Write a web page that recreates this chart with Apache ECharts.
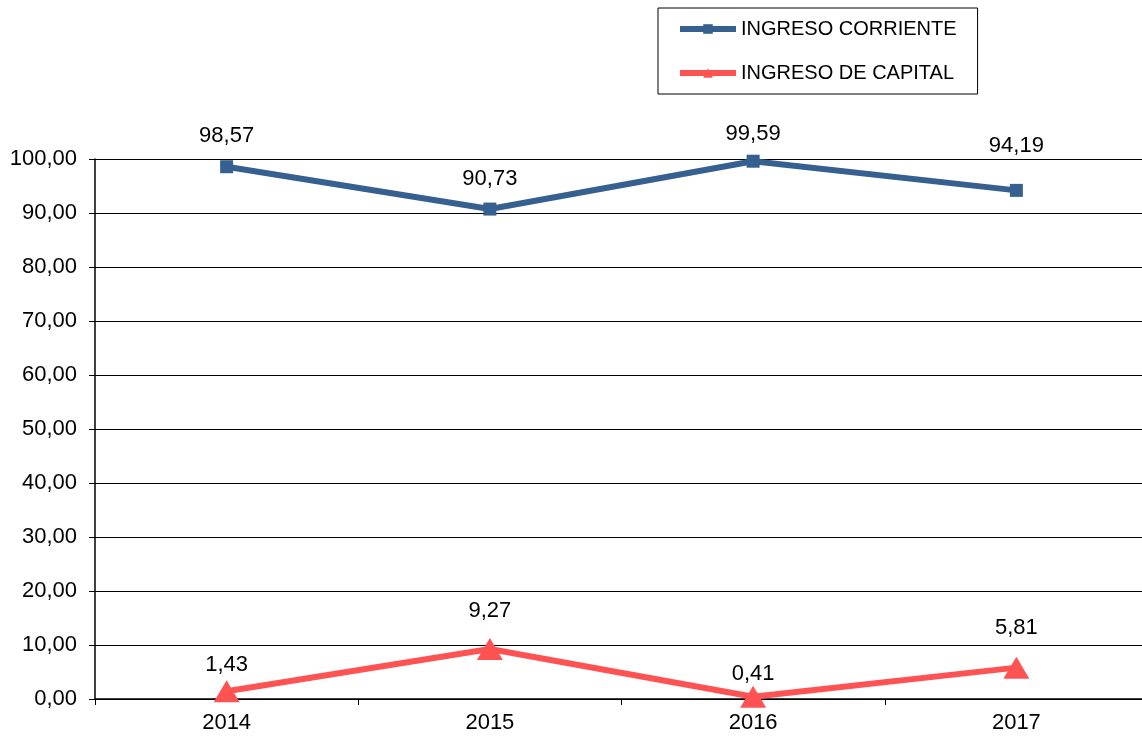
<!DOCTYPE html>
<html>
<head>
<meta charset="utf-8">
<script src="https://cdn.jsdelivr.net/npm/echarts@6/dist/echarts.min.js"></script>
<style>
  html, body { margin: 0; padding: 0; background: #fff; }
  #main { width: 1142px; height: 738px; }
</style>
</head>
<body>
<div id="main"></div>
<script>
var years = ["2014", "2015", "2016", "2017"];
var ingresoCorriente = [98.57, 90.73, 99.59, 94.19];
var ingresoCapital = [1.43, 9.27, 0.41, 5.81];

// label gaps above each point, as placed in the original
var corrienteLabelGap = [13, 13, 10, 27];
var capitalLabelGap = [4, 16, 1, 18];

var chartDom = document.getElementById("main");
var myChart = echarts.init(chartDom);
var option;

function comma(v) {
  return Number(v).toFixed(2).replace(".", ",");
}

function withLabels(values, gaps) {
  return values.map(function (v, i) {
    return { value: v, label: { distance: gaps[i] } };
  });
}

var font = "Liberation Sans, Arial, sans-serif";

option = {
  animation: false,
  textStyle: { fontFamily: font },
  legend: {
    left: 658,
    top: 8,
    orient: "vertical",
    padding: [11, 21, 11, 19],
    itemGap: 24,
    itemWidth: 56,
    itemHeight: 12,
    borderColor: "#000",
    borderWidth: 1,
    lineStyle: { width: 6 },
    textStyle: { fontSize: 20, color: "#000", fontFamily: font },
    data: ["INGRESO CORRIENTE", "INGRESO DE CAPITAL"]
  },
  grid: {
    left: 95,
    width: 1053,
    top: 159,
    bottom: 39,
    outerBoundsMode: "none"
  },
  xAxis: {
    type: "category",
    data: years,
    boundaryGap: true,
    axisLine: { lineStyle: { color: "#000", width: 1.5 } },
    axisTick: { show: true, length: 6, lineStyle: { color: "#000" } },
    axisLabel: { fontSize: 22, color: "#000", margin: 13 }
  },
  yAxis: {
    type: "value",
    min: 0,
    max: 100,
    interval: 10,
    axisLine: { show: true, lineStyle: { color: "#000", width: 1.5 } },
    axisTick: { show: true, length: 6, lineStyle: { color: "#000" } },
    axisLabel: { fontSize: 22, color: "#000", margin: 18, formatter: comma },
    splitLine: { show: true, lineStyle: { color: "#000", width: 1 } }
  },
  series: [
    {
      name: "INGRESO CORRIENTE",
      type: "line",
      data: withLabels(ingresoCorriente, corrienteLabelGap),
      symbol: "rect",
      symbolSize: 13,
      color: "#36608F",
      lineStyle: { width: 6, color: "#36608F" },
      itemStyle: { color: "#36608F" },
      label: {
        show: true,
        position: "top",
        fontSize: 22,
        color: "#000",
        formatter: function (p) { return comma(p.value); }
      }
    },
    {
      name: "INGRESO DE CAPITAL",
      type: "line",
      data: withLabels(ingresoCapital, capitalLabelGap),
      symbol: "triangle",
      symbolSize: [26, 22],
      color: "#FF5353",
      lineStyle: { width: 6, color: "#FF5353" },
      itemStyle: { color: "#FF5353" },
      label: {
        show: true,
        position: "top",
        fontSize: 22,
        color: "#000",
        formatter: function (p) { return comma(p.value); }
      }
    }
  ]
};

option && myChart.setOption(option);
</script>
</body>
</html>
